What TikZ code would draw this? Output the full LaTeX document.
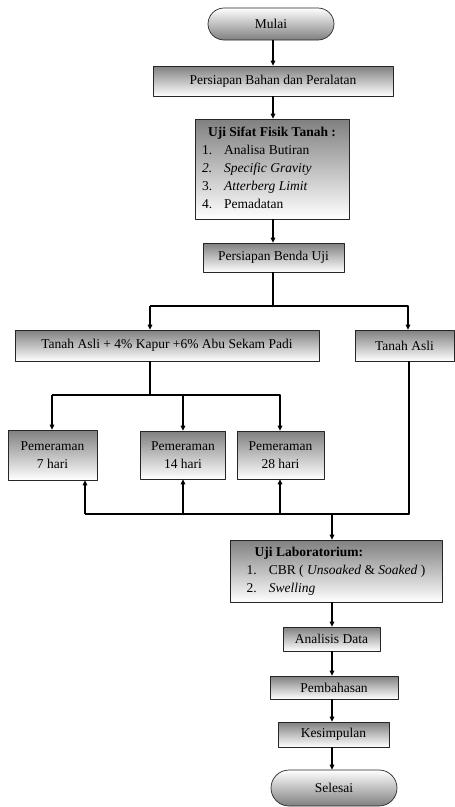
\documentclass[tikz,border=0pt]{standalone}
\usepackage{fontspec}
\setmainfont{Liberation Serif}
\usetikzlibrary{arrows.meta}
\begin{document}
\begin{tikzpicture}[x=1pt,y=-1pt,font=\fontsize{13.5}{18}\selectfont,line join=round,>={Triangle[length=5pt,width=4.5pt]},
box/.style={draw=black!85,line width=0.7pt,top color=black!50,bottom color=white,inner sep=3pt},
ends/.style={box,rounded corners=16pt,top color=white,bottom color=black!50},
flow/.style={line width=1.5pt}]
\useasboundingbox (0,0) rectangle (455,807);
\node[ends,minimum width=126pt,minimum height=32pt] (mulai) at (271,24) {Mulai};
\node[box,minimum width=240pt,minimum height=30pt] (bahan) at (273,81) {Persiapan Bahan dan Peralatan};
\node[box,minimum width=154pt,minimum height=100pt] (sifat) at (272,169) {\begin{tabular}{@{}l@{\hspace{12pt}}l@{}}
\multicolumn{2}{c}{\textbf{Uji Sifat Fisik Tanah :}}\\
1. & Analisa Butiran\\
\textit{2.} & \textit{Specific Gravity}\\
3. & \textit{Atterberg Limit}\\
4. & Pemadatan
\end{tabular}};
\node[box,minimum width=141pt,minimum height=29pt] (benda) at (273.5,257.5) {Persiapan Benda Uji};
\node[box,minimum width=304pt,minimum height=31pt] (campur) at (167,345.5) {Tanah Asli + 4\% Kapur +6\% Abu Sekam Padi};
\node[box,minimum width=99pt,minimum height=31pt] (asli) at (404.5,345.5) {Tanah Asli};
\node[box,minimum width=89pt,minimum height=50pt,align=center] (p7) at (52.5,455) {Pemeraman\\7 hari};
\node[box,minimum width=85pt,minimum height=48pt,align=center] (p14) at (183,455) {Pemeraman\\14 hari};
\node[box,minimum width=87pt,minimum height=48pt,align=center] (p28) at (280.5,455) {Pemeraman\\28 hari};
\node[box,minimum width=212pt,minimum height=62pt] (lab) at (336,571) {\begin{tabular}{@{}l@{\hspace{12pt}}l@{}}
\multicolumn{2}{@{}l@{}}{\hspace{8pt}\textbf{Uji Laboratorium:}}\\
1. & CBR ( \textit{Unsoaked} \& \textit{Soaked} )\\
2. & \textit{Swelling}
\end{tabular}};
\node[box,minimum width=97pt,minimum height=24pt] (analisis) at (331.5,639) {Analisis Data};
\node[box,minimum width=128pt,minimum height=23pt] (bahas) at (334,687.5) {Pembahasan};
\node[box,minimum width=111pt,minimum height=25pt] (simpul) at (333.5,734.5) {Kesimpulan};
\node[ends,minimum width=126pt,minimum height=36pt,rounded corners=18pt] (selesai) at (334,788) {Selesai};
\coordinate (ka) at (273,0);
\coordinate (sa) at (150,306);
\coordinate (sb) at (408,306);
\coordinate (ta) at (52,395);
\coordinate (tb) at (280,395);
\coordinate (ja) at (85,514);
\coordinate (jb) at (409,514);
\coordinate (jc) at (332,514);
\draw[flow,->] (ka |- mulai.south) -- (ka |- bahan.north);
\draw[flow,->] (ka |- bahan.south) -- (ka |- sifat.north);
\draw[flow,->] (ka |- sifat.south) -- (ka |- benda.north);
\draw[flow] (ka |- benda.south) -- (ka |- sa);
\draw[flow,->] (sa) -- (sa |- campur.north);
\draw[flow,->] (sa) -- (sb) -- (sb |- asli.north);
\draw[flow] (campur.south -| sa) -- (sa |- ta);
\draw[flow,->] (ta) -- (ta |- p7.north);
\draw[flow,->] (ta) -- (tb) -- (tb |- p28.north);
\draw[flow,->] (p14.north |- ta) -- (p14.north);
\draw[flow] (jb |- asli.south) -- (jb) -- (ja);
\draw[flow,->] (ja) -- (ja |- p7.south);
\draw[flow,->] (p14.south |- ja) -- (p14.south);
\draw[flow,->] (tb |- ja) -- (p28.south -| tb);
\draw[flow,->] (jc) -- (jc |- lab.north);
\draw[flow,->] (jc |- lab.south) -- (jc |- analisis.north);
\draw[flow,->] (jc |- analisis.south) -- (jc |- bahas.north);
\draw[flow,->] (jc |- bahas.south) -- (jc |- simpul.north);
\draw[flow,->] (jc |- simpul.south) -- (jc |- selesai.north);
\end{tikzpicture}
\end{document}
